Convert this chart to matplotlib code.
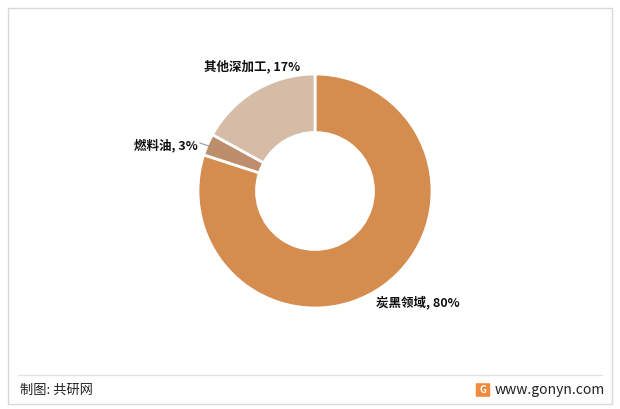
import matplotlib

matplotlib.use("Agg")
import matplotlib.pyplot as plt
from matplotlib.patches import Rectangle, FancyBboxPatch

plt.rcParams["font.family"] = ["Noto Sans CJK SC", "DejaVu Sans"]

labels = ["炭黑领域", "燃料油", "其他深加工"]
shares = [80, 3, 17]
colors = ["#D48C4F", "#BE8E6C", "#D6BCA6"]

W, H = 620, 409
fig = plt.figure(figsize=(W / 100, H / 100), dpi=100)

# outer frame and footer separator
fig.add_artist(Rectangle((8 / W, 5 / H), 604 / W, 396 / H, transform=fig.transFigure,
                         fill=False, edgecolor="#D9D9D9", linewidth=1.0))
fig.add_artist(plt.Line2D([18 / W, 602 / W], [1 - 375 / H, 1 - 375 / H],
                          transform=fig.transFigure, color="#E3E3E3", linewidth=1.0))

# donut axes: centre (315, 191), outer radius ~117 px
r = 117
cx, cy = 315, 191
ax = fig.add_axes([(cx - r) / W, 1 - (cy + r) / H, 2 * r / W, 2 * r / H])
wedges, _ = ax.pie(shares, colors=colors, startangle=90, counterclock=False,
                   radius=1.0, wedgeprops=dict(width=0.5, edgecolor="white", linewidth=2))
ax.set_xlim(-1, 1)
ax.set_ylim(-1, 1)
ax.set_aspect("equal")
ax.axis("off")


def px(x, y):
    return x / W, 1 - y / H


tk = dict(transform=fig.transFigure, fontsize=9, fontweight="bold", color="#111111", va="center")
fig.text(*px(204, 67), f"{labels[2]}, {shares[2]}%", ha="left", **tk)
fig.text(*px(134, 145), f"{labels[1]}, {shares[1]}%", ha="left", **tk)
fig.text(*px(376, 302), f"{labels[0]}, {shares[0]}%", ha="left", **tk)
# leader line for the small slice
fig.add_artist(plt.Line2D([200 / W, 212 / W], [1 - 143 / H, 1 - 147 / H],
                          transform=fig.transFigure, color="#999999", linewidth=0.8))

# footer
fig.text(*px(20, 390), "制图: 共研网", fontsize=9.5, color="#222222", ha="left", va="center",
         transform=fig.transFigure)
fig.text(*px(605, 390), "www.gonyn.com", fontsize=10, color="#222222", ha="right", va="center",
         transform=fig.transFigure)
fig.add_artist(FancyBboxPatch((477 / W, 1 - 396 / H), 12 / W, 12 / H, transform=fig.transFigure,
                              boxstyle="round,pad=0.002", facecolor="#F08A3C", edgecolor="none"))
fig.text(*px(483, 390), "G", fontsize=7, fontweight="bold", color="white", ha="center",
         va="center", transform=fig.transFigure)

fig.savefig("out.png", dpi=100, facecolor="white")
